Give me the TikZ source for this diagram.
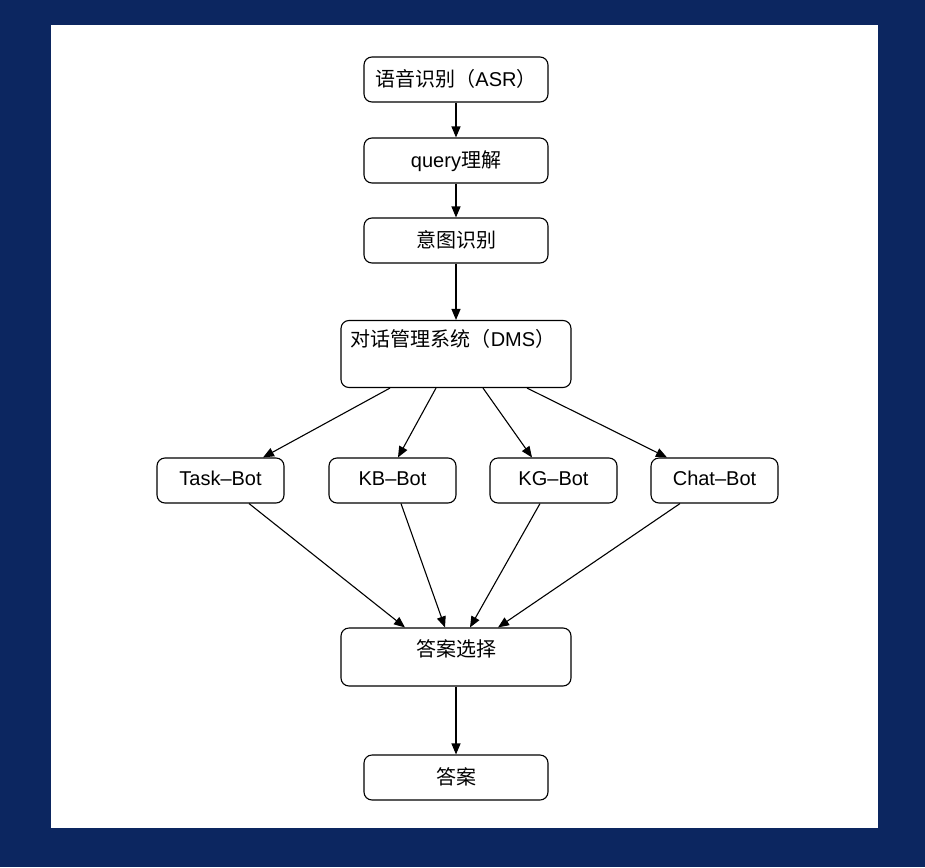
\documentclass[tikz,border=0pt]{standalone}
\usepackage{fontspec}
\setmainfont{Liberation Sans}
\newfontfamily\cjk{Noto Sans CJK SC}
\usetikzlibrary{arrows.meta,calc}
\definecolor{navy}{RGB}{12,38,96}
\begin{document}
\begin{tikzpicture}[x=1pt,y=-1pt,
  txt/.style={font=\fontsize{20}{24}\selectfont, text height=14pt, text depth=4pt},
  box/.style={draw=black, line width=1.1pt, rounded corners=8pt, fill=white,
    inner sep=0pt, txt},
  wide/.style={box, minimum width=184pt, minimum height=45pt, text depth=0pt},
  big/.style={box, minimum width=230pt, minimum height=67pt},
  bot/.style={box, minimum width=127pt, minimum height=45pt},
  lbl/.style={inner sep=0pt, txt},
  arr/.style={line width=1.1pt, -{Triangle[length=11pt,width=9pt]}}]
% page and panel
\fill[navy] (0,0) rectangle (925,867);
\fill[white] (51,25) rectangle (878,828);
\useasboundingbox (0,0) rectangle (925,867);

% pipeline boxes
\node[wide] (asr) at (456,79.5) {{\cjk 语音识别（}ASR{\cjk ）}};
\node[wide] (query) at (456,160.5) {query{\cjk 理解}};
\node[wide] (intent) at (456,240.5) {\cjk 意图识别};
\node[big] (dms) at (456,354) {};
\node[lbl] (dmstext) at (453,341) {{\cjk 对话管理系统（}DMS{\cjk ）}};

\node[bot] (task) at (220.5,480.5) {Task–Bot};
\node[bot] (kb) at (392.5,480.5) {KB–Bot};
\node[bot] (kg) at (553.5,480.5) {KG–Bot};
\node[bot] (chat) at (714.5,480.5) {Chat–Bot};

\node[big, minimum height=58pt] (select) at (456,657) {};
\node[lbl] (selecttext) at (456,651) {\cjk 答案选择};
\node[wide] (answer) at (456,777.5) {\cjk 答案};

% connectors
\draw[arr] (asr) -- (query);
\draw[arr] (query) -- (intent);
\draw[arr] (intent) -- (dms);

\draw[arr] ([xshift=-66pt]dms.south) -- ([xshift=42.5pt]task.north);
\draw[arr] ([xshift=-20pt]dms.south) -- ([xshift=5.5pt]kb.north);
\draw[arr] ([xshift=27pt]dms.south) -- ([xshift=-21.5pt]kg.north);
\draw[arr] ([xshift=71pt]dms.south) -- ([xshift=-47.5pt]chat.north);

\draw[arr] ([xshift=28.5pt]task.south) -- ([xshift=-51pt]select.north);
\draw[arr] ([xshift=8.5pt]kb.south) -- ([xshift=-11pt]select.north);
\draw[arr] ([xshift=-13.5pt]kg.south) -- ([xshift=14pt]select.north);
\draw[arr] ([xshift=-34.5pt]chat.south) -- ([xshift=42pt]select.north);

\draw[arr] (select) -- (answer);
\end{tikzpicture}
\end{document}
